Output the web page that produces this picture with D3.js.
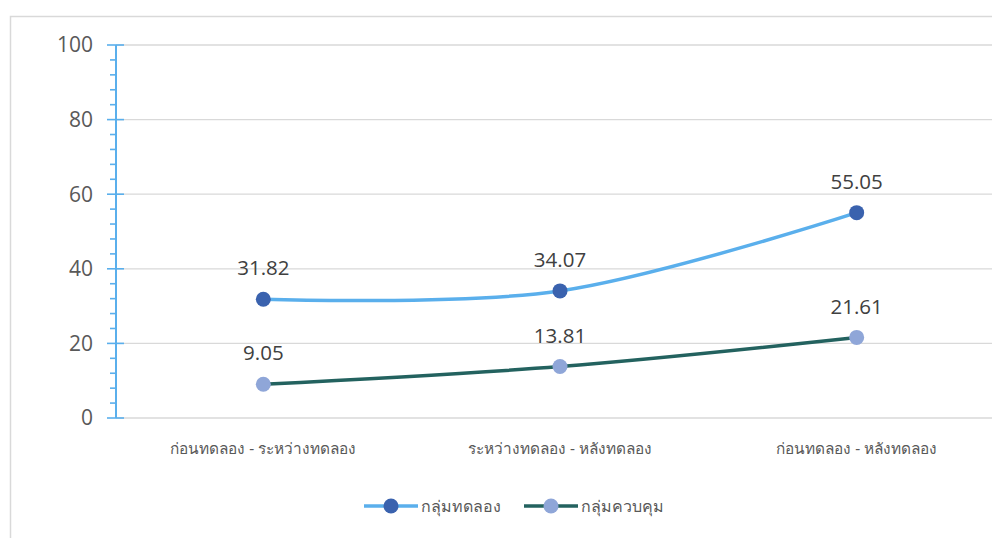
<!DOCTYPE html>
<html>
<head>
<meta charset="utf-8">
<script src="https://cdn.jsdelivr.net/npm/d3@7"></script>
<style>
  body { margin: 0; background: #fff; }
  svg { display: block; }
  text { font-family: "Open Sans", "Noto Sans", sans-serif; }
</style>
</head>
<body>
<div id="chart"></div>
<script>
//// ================= DATA ================= ////
var categories = ["ก่อนทดลอง - ระหว่างทดลอง", "ระหว่างทดลอง - หลังทดลอง", "ก่อนทดลอง - หลังทดลอง"];
var seriesNames = ["กลุ่มทดลอง", "กลุ่มควบคุม"];
var experimentVals = [31.82, 34.07, 55.05];
var controlVals = [9.05, 13.81, 21.61];
var yTicks = [0, 20, 40, 60, 80, 100];

var lineColors = ["#5aafec", "#23625f"];
var markerColors = ["#3a62ae", "#8fa6d8"];

//// ================= LAYOUT ================= ////
var width = 992, height = 538;

var svg = d3.select("#chart").append("svg")
    .attr("width", width)
    .attr("height", height);

// chart frame (cropped on right / bottom)
svg.append("rect")
    .attr("x", 10.5)
    .attr("y", 16.5)
    .attr("width", 1100)
    .attr("height", 600)
    .attr("fill", "none")
    .attr("stroke", "#d9d9d9")
    .attr("stroke-width", 1.5);

var x = d3.scaleBand()
    .domain(categories)
    .range([115, 1005]);

var y = d3.scaleLinear()
    .domain([0, 100])
    .range([418, 45]);

// gridlines
svg.append("g")
    .selectAll("line")
    .data(yTicks)
    .enter().append("line")
    .attr("x1", 116)
    .attr("x2", width)
    .attr("y1", function(d) { return y(d); })
    .attr("y2", function(d) { return y(d); })
    .attr("stroke", "#d9d9d9")
    .attr("stroke-width", 1.3);

// y axis with minor ticks
var axisColor = "#5aafec";
var axisG = svg.append("g");
axisG.append("line")
    .attr("x1", 116).attr("x2", 116)
    .attr("y1", y(100)).attr("y2", y(0))
    .attr("stroke", axisColor).attr("stroke-width", 2);

var minor = d3.range(0, 101, 4).filter(function(d) { return d % 20 != 0; });
axisG.selectAll(".minor")
    .data(minor)
    .enter().append("line")
    .attr("x1", 110).attr("x2", 116)
    .attr("y1", function(d) { return y(d); })
    .attr("y2", function(d) { return y(d); })
    .attr("stroke", axisColor).attr("stroke-width", 1.6);

axisG.selectAll(".major")
    .data(yTicks)
    .enter().append("line")
    .attr("x1", 107).attr("x2", 124)
    .attr("y1", function(d) { return y(d); })
    .attr("y2", function(d) { return y(d); })
    .attr("stroke", axisColor).attr("stroke-width", 1.6);

axisG.selectAll("text")
    .data(yTicks)
    .enter().append("text")
    .attr("x", 93)
    .attr("y", function(d) { return y(d); })
    .attr("dy", "0.35em")
    .attr("text-anchor", "end")
    .attr("font-size", 21)
    .attr("fill", "#595959")
    .text(function(d) { return d; });

// category labels
svg.append("g")
    .selectAll("text")
    .data(categories)
    .enter().append("text")
    .attr("x", function(d) { return x(d) + x.bandwidth() / 2; })
    .attr("y", 449)
    .attr("dy", "0.35em")
    .attr("text-anchor", "middle")
    .attr("font-size", 15.4)
    .attr("fill", "#595959")
    .text(function(d) { return d; });

//// ================= LINES ================= ////
var series = [experimentVals, controlVals];

var line = d3.line()
    .x(function(d, i) { return x(categories[i]) + x.bandwidth() / 2; })
    .y(function(d) { return y(d); })
    .curve(d3.curveCardinal.tension(0));

series.forEach(function(vals, s) {
    svg.append("path")
        .datum(vals)
        .attr("d", line)
        .attr("fill", "none")
        .attr("stroke", lineColors[s])
        .attr("stroke-width", 3.5)
        .attr("stroke-linecap", "round");
});

series.forEach(function(vals, s) {
    svg.append("g")
        .selectAll("circle")
        .data(vals)
        .enter().append("circle")
        .attr("cx", function(d, i) { return x(categories[i]) + x.bandwidth() / 2; })
        .attr("cy", function(d) { return y(d); })
        .attr("r", 7.5)
        .attr("fill", markerColors[s]);

    svg.append("g")
        .selectAll("text")
        .data(vals)
        .enter().append("text")
        .attr("x", function(d, i) { return x(categories[i]) + x.bandwidth() / 2; })
        .attr("y", function(d) { return y(d) - 31; })
        .attr("dy", "0.35em")
        .attr("text-anchor", "middle")
        .attr("font-size", 20.5)
        .attr("fill", "#404040")
        .text(function(d) { return d.toFixed(2); });
});

//// ================= LEGEND ================= ////
var legendItems = [{ x: 364, name: seriesNames[0], s: 0 }, { x: 524, name: seriesNames[1], s: 1 }];
var legend = svg.append("g");
legendItems.forEach(function(d) {
    legend.append("line")
        .attr("x1", d.x).attr("x2", d.x + 54)
        .attr("y1", 506).attr("y2", 506)
        .attr("stroke", lineColors[d.s])
        .attr("stroke-width", 3.5);
    legend.append("circle")
        .attr("cx", d.x + 27).attr("cy", 506)
        .attr("r", 7.5)
        .attr("fill", markerColors[d.s]);
    legend.append("text")
        .attr("x", d.x + 57).attr("y", 506)
        .attr("dy", "0.35em")
        .attr("font-size", 16)
        .attr("fill", "#595959")
        .text(d.name);
});
</script>
</body>
</html>
